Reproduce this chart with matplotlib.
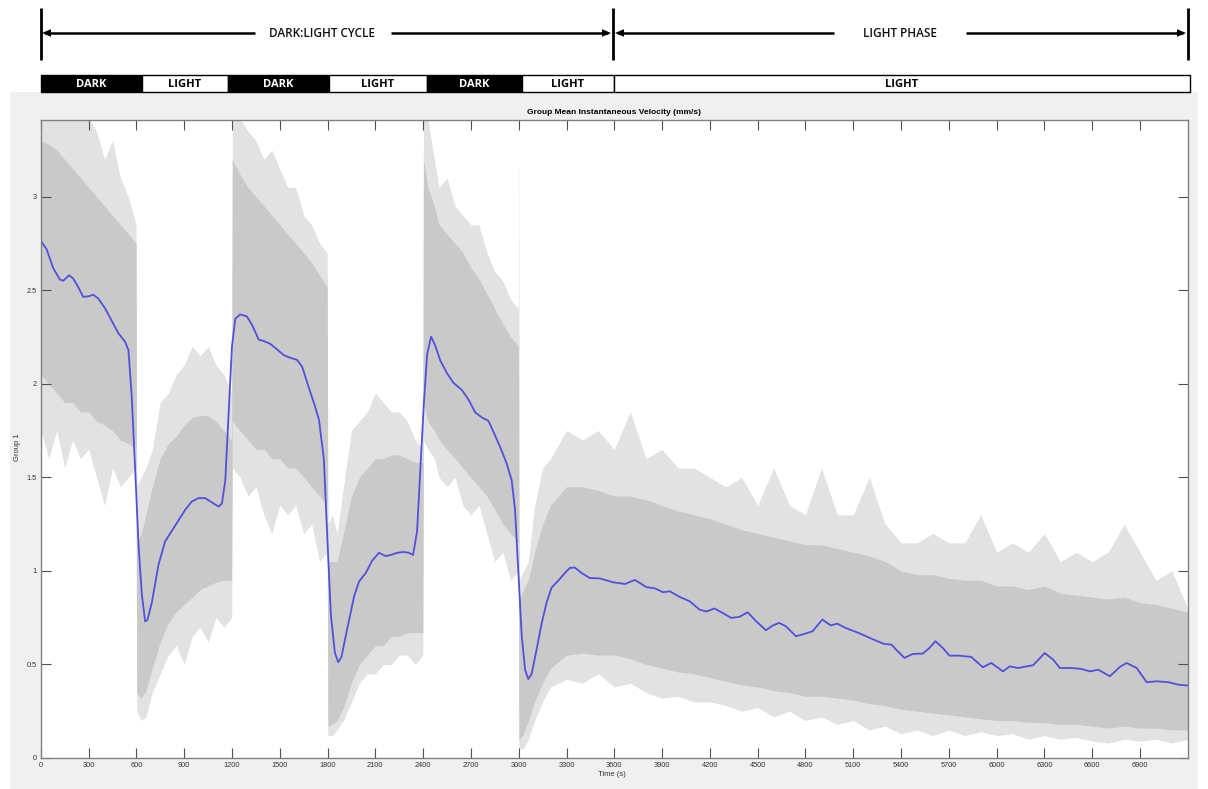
import numpy as np
import matplotlib
matplotlib.use("Agg")
import matplotlib.pyplot as plt
from matplotlib.patches import Rectangle, Polygon

plt.rcParams['font.family'] = ['Liberation Sans', 'DejaVu Sans']

# ---------------- data ----------------
# smoothed group mean (blue line)
smooth_t = [0, 36, 78, 120, 141, 178, 204, 235, 266, 298, 329, 361, 403, 445, 487, 529, 550, 571, 592,
            613, 634, 655, 669, 697, 739, 780, 822, 864, 906, 948, 990, 1032, 1074, 1116, 1137, 1158, 1179,
            1200, 1221, 1252, 1294, 1326, 1368, 1399, 1441, 1483, 1525, 1567, 1609, 1641, 1683, 1714, 1746,
            1777, 1800, 1821, 1846, 1867, 1887, 1925, 1967, 1998, 2040, 2081, 2123, 2165, 2196, 2238, 2279,
            2310, 2337, 2362, 2383, 2404, 2425, 2450, 2477, 2508, 2550, 2592, 2644, 2685, 2727, 2769, 2810,
            2842, 2883, 2925, 2956, 2977, 2998, 3019, 3040, 3060, 3081, 3113, 3144, 3175, 3206, 3248, 3290,
            3321, 3352, 3394, 3446, 3508, 3594, 3667, 3729, 3802, 3854, 3906, 3948, 4010, 4073, 4135, 4177,
            4229, 4281, 4333, 4385, 4437, 4490, 4552, 4594, 4635, 4677, 4740, 4781, 4844, 4906, 4958, 5000,
            5052, 5135, 5219, 5292, 5340, 5369, 5421, 5473, 5536, 5578, 5616, 5662, 5704, 5767, 5841, 5914,
            5966, 6040, 6082, 6134, 6229, 6302, 6355, 6397, 6470, 6533, 6585, 6638, 6711, 6774, 6816, 6879,
            6942, 7005, 7078, 7141, 7200]
smooth_v = [2.764, 2.72, 2.618, 2.557, 2.551, 2.580, 2.562, 2.517, 2.465, 2.467, 2.476, 2.456, 2.404, 2.337,
            2.270, 2.225, 2.18, 1.93, 1.55, 1.146, 0.876, 0.730, 0.737, 0.831, 1.034, 1.157, 1.213, 1.270,
            1.326, 1.371, 1.389, 1.389, 1.366, 1.344, 1.36, 1.483, 1.843, 2.20, 2.348, 2.371, 2.36, 2.315,
            2.236, 2.229, 2.213, 2.184, 2.153, 2.139, 2.128, 2.09, 1.978, 1.899, 1.809, 1.596, 1.15, 0.764,
            0.562, 0.512, 0.539, 0.697, 0.865, 0.944, 0.989, 1.056, 1.097, 1.079, 1.085, 1.097, 1.101, 1.097,
            1.085, 1.213, 1.55, 1.888, 2.157, 2.252, 2.202, 2.124, 2.056, 2.004, 1.966, 1.915, 1.847, 1.820,
            1.802, 1.742, 1.663, 1.573, 1.483, 1.326, 0.989, 0.652, 0.472, 0.422, 0.449, 0.584, 0.719, 0.831,
            0.910, 0.948, 0.989, 1.016, 1.018, 0.989, 0.962, 0.960, 0.939, 0.930, 0.952, 0.913, 0.907, 0.886,
            0.891, 0.861, 0.838, 0.793, 0.783, 0.799, 0.775, 0.749, 0.754, 0.779, 0.731, 0.683, 0.708, 0.722,
            0.704, 0.651, 0.660, 0.677, 0.740, 0.709, 0.718, 0.695, 0.668, 0.636, 0.610, 0.606, 0.579, 0.535,
            0.556, 0.558, 0.588, 0.624, 0.588, 0.547, 0.547, 0.540, 0.485, 0.508, 0.463, 0.490, 0.481, 0.496,
            0.561, 0.526, 0.481, 0.481, 0.476, 0.463, 0.472, 0.437, 0.487, 0.508, 0.481, 0.405, 0.410, 0.405,
            0.392, 0.387]

# raw instantaneous velocity envelope (gray trace)
env_t = [0, 50, 100, 150, 200, 250, 300, 350, 400, 450, 500, 550, 598,
         602, 630, 660, 700, 750, 800, 850, 900, 950, 1000, 1050, 1100, 1150, 1198,
         1202, 1250, 1300, 1350, 1400, 1450, 1500, 1550, 1600, 1650, 1700, 1750, 1798,
         1802, 1830, 1860, 1900, 1950, 2000, 2050, 2100, 2150, 2200, 2250, 2300, 2350, 2398,
         2402, 2430, 2470, 2500, 2550, 2600, 2650, 2700, 2750, 2800, 2850, 2900, 2950, 2998,
         3001, 3004, 3030, 3060, 3100, 3150, 3200, 3300, 3400, 3500, 3600, 3700, 3800, 3900, 4000,
         4100, 4200, 4300, 4400, 4500, 4600, 4700, 4800, 4900, 5000, 5100, 5200, 5300, 5400, 5500,
         5600, 5700, 5800, 5900, 6000, 6100, 6200, 6300, 6400, 6500, 6600, 6700, 6800, 6900, 7000,
         7100, 7200]
spike_hi = [3.42, 3.42, 3.42, 3.42, 3.42, 3.42, 3.42, 3.35, 3.2, 3.3, 3.1, 3.0, 2.85,
            1.45, 1.5, 1.55, 1.65, 1.9, 1.95, 2.05, 2.1, 2.2, 2.15, 2.2, 2.1, 2.05, 1.95,
            3.42, 3.42, 3.35, 3.3, 3.2, 3.25, 3.15, 3.05, 3.05, 2.9, 2.85, 2.75, 2.7,
            1.25, 1.3, 1.2, 1.45, 1.75, 1.8, 1.85, 1.95, 1.9, 1.85, 1.85, 1.8, 1.7, 1.65,
            3.42, 3.42, 3.2, 3.05, 3.1, 2.95, 2.9, 2.85, 2.85, 2.7, 2.6, 2.55, 2.45, 2.4,
            3.3, 0.95, 1.0, 1.05, 1.35, 1.55, 1.6, 1.75, 1.7, 1.75, 1.65, 1.85, 1.6, 1.65, 1.55,
            1.55, 1.5, 1.45, 1.5, 1.35, 1.55, 1.35, 1.3, 1.55, 1.3, 1.3, 1.5, 1.25, 1.15, 1.15,
            1.2, 1.15, 1.15, 1.3, 1.1, 1.15, 1.1, 1.2, 1.05, 1.1, 1.05, 1.1, 1.25, 1.1, 0.95,
            1.0, 0.8]
core_hi = [3.3, 3.28, 3.25, 3.2, 3.15, 3.1, 3.05, 3.0, 2.95, 2.9, 2.85, 2.8, 2.75,
           1.15, 1.2, 1.3, 1.45, 1.6, 1.68, 1.72, 1.78, 1.82, 1.83, 1.83, 1.8, 1.75, 1.7,
           3.2, 3.12, 3.05, 3.0, 2.95, 2.9, 2.85, 2.8, 2.75, 2.7, 2.65, 2.58, 2.52,
           1.05, 1.05, 1.05, 1.2, 1.4, 1.5, 1.55, 1.6, 1.6, 1.62, 1.62, 1.6, 1.58, 1.58,
           3.2, 3.05, 2.95, 2.85, 2.8, 2.75, 2.7, 2.62, 2.56, 2.48, 2.4, 2.32, 2.25, 2.2,
           0.85, 0.85, 0.9, 0.95, 1.1, 1.25, 1.35, 1.45, 1.45, 1.43, 1.4, 1.4, 1.38, 1.35, 1.32,
           1.3, 1.28, 1.25, 1.22, 1.2, 1.18, 1.16, 1.14, 1.14, 1.12, 1.1, 1.08, 1.05, 1.0, 0.98,
           0.98, 0.96, 0.95, 0.95, 0.92, 0.92, 0.9, 0.92, 0.88, 0.87, 0.86, 0.85, 0.86, 0.83, 0.82,
           0.8, 0.78]
core_lo = [2.05, 2.0, 1.95, 1.9, 1.9, 1.85, 1.85, 1.8, 1.78, 1.75, 1.7, 1.68, 1.65,
           0.35, 0.32, 0.36, 0.48, 0.62, 0.72, 0.78, 0.82, 0.86, 0.9, 0.92, 0.94, 0.95, 0.95,
           1.8, 1.75, 1.7, 1.65, 1.65, 1.6, 1.6, 1.55, 1.55, 1.5, 1.45, 1.4, 1.35,
           0.17, 0.18, 0.2, 0.27, 0.4, 0.5, 0.55, 0.6, 0.6, 0.65, 0.65, 0.67, 0.67, 0.67,
           1.9, 1.8, 1.75, 1.7, 1.65, 1.6, 1.55, 1.5, 1.45, 1.4, 1.33, 1.25, 1.2, 1.15,
           0.1, 0.1, 0.13, 0.2, 0.3, 0.4, 0.48, 0.55, 0.56, 0.55, 0.55, 0.53, 0.5, 0.48, 0.46,
           0.45, 0.43, 0.41, 0.39, 0.38, 0.36, 0.35, 0.33, 0.33, 0.32, 0.31, 0.29, 0.28, 0.26, 0.25,
           0.24, 0.23, 0.22, 0.21, 0.2, 0.2, 0.19, 0.19, 0.18, 0.18, 0.17, 0.16, 0.17, 0.16, 0.16,
           0.15, 0.15]
spike_lo = [1.75, 1.6, 1.75, 1.55, 1.7, 1.6, 1.65, 1.5, 1.35, 1.55, 1.45, 1.5, 1.55,
            0.25, 0.2, 0.22, 0.35, 0.45, 0.55, 0.6, 0.5, 0.65, 0.7, 0.62, 0.75, 0.7, 0.75,
            1.55, 1.5, 1.4, 1.45, 1.3, 1.2, 1.35, 1.3, 1.35, 1.2, 1.25, 1.05, 1.1,
            0.12, 0.12, 0.15, 0.2, 0.3, 0.4, 0.45, 0.45, 0.5, 0.5, 0.55, 0.55, 0.5, 0.55,
            1.7, 1.65, 1.6, 1.5, 1.45, 1.5, 1.35, 1.3, 1.35, 1.2, 1.05, 1.1, 0.95, 1.0,
            0.05, 0.05, 0.05, 0.1, 0.2, 0.3, 0.38, 0.42, 0.4, 0.45, 0.38, 0.4, 0.35, 0.32, 0.33,
            0.3, 0.3, 0.28, 0.25, 0.27, 0.22, 0.25, 0.2, 0.22, 0.18, 0.2, 0.15, 0.17, 0.13, 0.15,
            0.12, 0.15, 0.12, 0.14, 0.12, 0.13, 0.1, 0.12, 0.1, 0.11, 0.09, 0.08, 0.1, 0.09, 0.1,
            0.08, 0.1]

x_ticks = list(range(0, 7200, 300))
y_ticks = [0, 0.5, 1, 1.5, 2, 2.5, 3]
y_tick_labels = ['0', '0.5', '1', '1.5', '2', '2.5', '3']

# header (protocol diagram, pixel layout)
phase_labels = ['DARK', 'LIGHT', 'DARK', 'LIGHT', 'DARK', 'LIGHT', 'LIGHT']
phase_edges_px = [41, 142, 228, 329, 427, 522, 614, 1190]
span_labels = ['DARK:LIGHT CYCLE', 'LIGHT PHASE']
span_px = [(41, 255, 391, 612, 322), (614, 834, 966, 1187, 900)]
header_tick_px = [41, 613, 1188]

# ---------------- figure ----------------
W, H = 1208, 789
fig = plt.figure(figsize=(W / 100, H / 100), dpi=100)
fig.patch.set_facecolor('white')

bg = fig.add_axes([0, 0, 1, 1], zorder=0)
bg.set_xlim(0, W)
bg.set_ylim(H, 0)
bg.axis('off')
bg.add_patch(Rectangle((10, 92), 1188, 697, facecolor='#f0f0f0', edgecolor='none'))

hdr_font = ['Open Sans', 'DejaVu Sans']
for x in header_tick_px:
    bg.plot([x, x], [8, 60], color='black', lw=2, solid_capstyle='butt')
for lab, (l0, l1, r0, r1, cx) in zip(span_labels, span_px):
    bg.plot([l0 + 4, l1], [33, 33], color='black', lw=1.8, solid_capstyle='butt')
    bg.plot([r0, r1 - 4], [33, 33], color='black', lw=1.8, solid_capstyle='butt')
    bg.add_patch(Polygon([[l0 + 1, 33], [l0 + 10, 29.2], [l0 + 10, 36.8]], closed=True,
                         facecolor='black', edgecolor='none'))
    bg.add_patch(Polygon([[r1 - 1, 33], [r1 - 10, 29.2], [r1 - 10, 36.8]], closed=True,
                         facecolor='black', edgecolor='none'))
    bg.text(cx, 33, lab, ha='center', va='center', fontsize=8.5, fontweight='semibold',
            family=hdr_font, color='#111111')

for i, lab in enumerate(phase_labels):
    x0, x1 = phase_edges_px[i], phase_edges_px[i + 1]
    dark = lab == 'DARK'
    bg.add_patch(Rectangle((x0, 75), x1 - x0, 17, facecolor='black' if dark else 'white',
                           edgecolor='black', lw=1))
    bg.text((x0 + x1) / 2, 84, lab, ha='center', va='center', fontsize=8, fontweight='bold',
            family=hdr_font, color='white' if dark else 'black')

# main axes
ax = fig.add_axes([40.8 / W, 1 - 758 / H, 1147 / W, 638 / H], zorder=1)
ax.set_facecolor('white')
ax.fill_between(env_t, spike_lo, spike_hi, color='#e2e2e2', lw=0)
ax.fill_between(env_t, core_lo, core_hi, color='#c9c9c9', lw=0)
ax.plot(smooth_t, smooth_v, color='#5050dc', lw=1.3)

ax.set_xlim(0, 7200)
ax.set_ylim(0, 3.41)
ax.set_xticks(x_ticks)
ax.set_xticklabels([str(v) for v in x_ticks])
ax.set_yticks(y_ticks)
ax.set_yticklabels(y_tick_labels)
ax.tick_params(direction='in', length=7, width=0.8, color='#505050', labelsize=5.3,
               labelcolor='#333333', top=True, right=True, pad=3)
for s in ax.spines.values():
    s.set_color('#808080')
    s.set_linewidth(1)

ax.set_title('Group Mean Instantaneous Velocity (mm/s)', fontsize=6, fontweight='bold', pad=4)
ax.set_xlabel('Time (s)', fontsize=5.5, color='#333333')
ax.set_ylabel('Group 1', fontsize=5.5, color='#333333')
ax.xaxis.set_label_coords((612 - 40.8) / 1147, (758 - 771) / 638)
ax.yaxis.set_label_coords((21 - 40.8) / 1147, (758 - 447) / 638)

fig.savefig('out.png', dpi=100, facecolor=fig.get_facecolor())
